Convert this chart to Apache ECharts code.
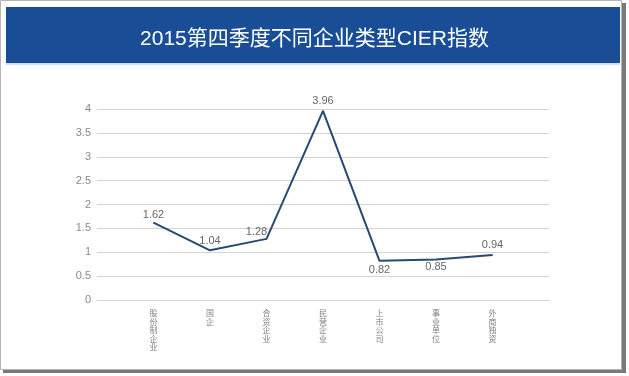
<!DOCTYPE html>
<html>
<head>
<meta charset="utf-8">
<script src="https://cdn.jsdelivr.net/npm/echarts@6/dist/echarts.min.js"></script>
<style>
  html, body { margin: 0; padding: 0; background: #fff; }
  #chart { width: 629px; height: 376px; }
</style>
</head>
<body>
<div id="chart"></div>
<script>
const titleText = '2015第四季度不同企业类型CIER指数';
const categories = ['股份制企业', '国企', '合资企业', '民营企业', '上市公司', '事业单位', '外商独资'];
const cierValues = [1.62, 1.04, 1.28, 3.96, 0.82, 0.85, 0.94];
const yTicks = [0, 0.5, 1, 1.5, 2, 2.5, 3, 3.5, 4];

// label placement per point (style only)
const labelPlace = [
  { position: 'top', offset: [0, 3] },
  { position: 'top', offset: [0, 2] },
  { position: 'top', offset: [-10, 4] },
  { position: 'top', offset: [0, 1] },
  { position: 'bottom', offset: [0, -2] },
  { position: 'bottom', offset: [0, -3] },
  { position: 'top', offset: [0, 1] },
];

const chart = echarts.init(document.getElementById('chart'), null, { renderer: 'canvas' });
const font = '"Liberation Sans", "Noto Sans CJK SC", sans-serif';

// empty slot at each end so the points sit one step in from the grid edges
const axisData = [''].concat(categories, ['']);
const seriesData = ['-'].concat(cierValues.map((v, i) => ({
  value: v,
  label: Object.assign({ show: true }, labelPlace[i]),
})), ['-']);

chart.setOption({
  animation: false,
  textStyle: { fontFamily: font },
  title: {
    text: titleText,
    left: 'center',
    top: 24,
    textStyle: { color: '#fff', fontSize: 21, fontWeight: 'normal', fontFamily: font },
  },
  graphic: [
    { type: 'rect', z: -10, shape: { x: 3, y: 3, width: 623, height: 370 }, style: { fill: '#7a7a7a' } },
    { type: 'rect', z: -9, shape: { x: 0.5, y: 0.5, width: 621, height: 369 }, style: { fill: '#fff', stroke: '#b5b5b5', lineWidth: 1 } },
    { type: 'rect', z: -8, shape: { x: 6, y: 7, width: 614, height: 56 }, style: { fill: '#194e96' } },
    { type: 'rect', z: -8, shape: { x: 6, y: 63, width: 614, height: 2 }, style: { fill: '#cfe0f2' } },
  ],
  grid: { left: 97, right: 80, top: 109, bottom: 76 },
  xAxis: {
    type: 'category',
    data: axisData,
    boundaryGap: false,
    axisLine: { show: true, lineStyle: { color: '#d4d4d4' } },
    axisTick: { show: false },
    axisLabel: {
      interval: 0,
      margin: 10,
      color: '#808080',
      fontSize: 8,
      lineHeight: 8.5,
      verticalAlign: 'top',
      formatter: v => v.split('').join('\n'),
    },
    splitLine: { show: false },
  },
  yAxis: {
    type: 'value',
    min: yTicks[0],
    max: yTicks[yTicks.length - 1],
    interval: 0.5,
    axisLine: { show: false },
    axisTick: { show: false },
    axisLabel: { color: '#8a8a8a', fontSize: 11, margin: 6 },
    splitLine: { lineStyle: { color: '#d4d4d4', width: 1 } },
  },
  series: [{
    type: 'line',
    data: seriesData,
    symbol: 'circle',
    symbolSize: 1,
    showSymbol: true,
    itemStyle: { color: '#274a72' },
    lineStyle: { color: '#274a72', width: 2 },
    label: {
      show: true,
      color: '#666',
      fontSize: 11,
      distance: 5,
    },
  }],
});
</script>
</body>
</html>
